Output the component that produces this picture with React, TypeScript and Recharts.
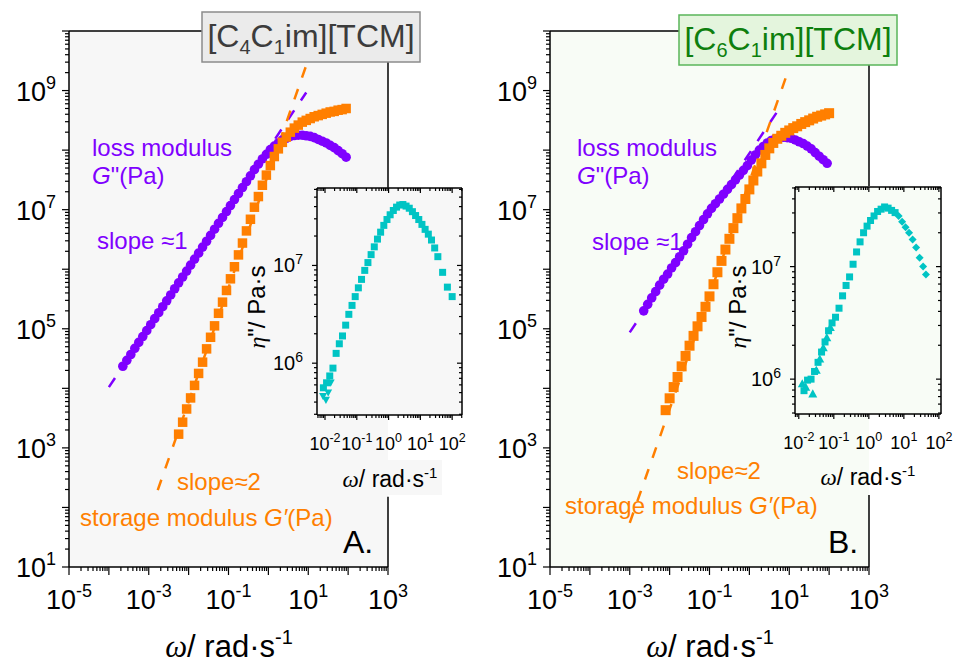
import React from 'react';
import { ScatterChart, Scatter, XAxis, YAxis, ReferenceLine } from 'recharts';

const PURPLE = '#7f00ff';
const ORANGE = '#ff7f00';
const CYAN = '#00c4c4';
const SANS = '"Liberation Sans", Arial, sans-serif';
const SERIF = '"Liberation Serif", "Times New Roman", serif';

// frequency grid (rad/s), shared by the master curves
const omegaGrid = [
  2.24e-4, 2.82e-4, 3.55e-4, 4.47e-4, 5.62e-4, 7.08e-4, 8.91e-4,
  1.12e-3, 1.41e-3, 1.78e-3, 2.24e-3, 2.82e-3, 3.55e-3, 4.47e-3, 5.62e-3, 7.08e-3, 8.91e-3,
  0.0112, 0.0141, 0.0178, 0.0224, 0.0282, 0.0355, 0.0447, 0.0562, 0.0708, 0.0891,
  0.112, 0.141, 0.178, 0.224, 0.282, 0.355, 0.447, 0.562, 0.708, 0.891,
  1.12, 1.41, 1.78, 2.24, 2.82, 3.55, 4.47, 5.62, 7.08, 8.91,
  11.2, 14.1, 17.8, 22.4, 28.2, 35.5, 44.7, 56.2, 70.8, 89.1,
];
const omegaGridB = [
  7.94e-3, 0.01, 0.0126, 0.0158, 0.02, 0.0251, 0.0316, 0.0398, 0.0501, 0.0631, 0.0794,
  0.1, 0.126, 0.158, 0.2, 0.251, 0.316, 0.398, 0.501, 0.631, 0.794,
  1, 1.26, 1.58, 2.0, 2.51, 3.16, 3.98, 5.01, 6.31, 7.94,
  10, 12.6, 15.8, 20, 25.1, 31.6, 39.8, 50.1, 63.1, 79.4, 100,
];

// [C4C1im][TCM]
const lossA = [
  2.35e4, 2.95e4, 3.7e4, 4.7e4, 5.9e4, 7.4e4, 9.3e4,
  1.17e5, 1.48e5, 1.86e5, 2.35e5, 2.95e5, 3.7e5, 4.7e5, 5.9e5, 7.4e5, 9.3e5,
  1.17e6, 1.48e6, 1.86e6, 2.35e6, 2.95e6, 3.7e6, 4.7e6, 5.9e6, 7.4e6, 9.3e6,
  1.17e7, 1.48e7, 1.86e7, 2.35e7, 2.95e7, 3.7e7, 4.7e7, 5.8e7, 7.1e7, 8.5e7,
  1.02e8, 1.17e8, 1.32e8, 1.48e8, 1.58e8, 1.7e8, 1.76e8, 1.78e8, 1.78e8, 1.74e8,
  1.7e8, 1.62e8, 1.51e8, 1.41e8, 1.32e8, 1.2e8, 1.1e8, 9.8e7, 8.7e7, 7.6e7,
];
const storageOmegaA = omegaGrid.slice(14);
const storageA = [
  1.7e3, 2.7e3, 4.5e3, 6.9e3, 1.12e4, 1.78e4, 2.75e4, 4.6e4, 7.2e4, 1.12e5,
  1.82e5, 2.8e5, 4.4e5, 6.9e5, 1.1e6, 1.74e6, 2.75e6, 4.4e6, 6.9e6, 1.1e7,
  1.66e7, 2.57e7, 3.8e7, 5.5e7, 7.8e7, 1.05e8, 1.35e8, 1.66e8, 2.0e8, 2.34e8,
  2.63e8, 2.95e8, 3.16e8, 3.39e8, 3.63e8, 3.8e8, 3.98e8, 4.17e8, 4.37e8, 4.47e8,
  4.68e8, 4.79e8, 5.0e8,
];
const lossFitOmegaA = [1e-4, 8.9];
const lossFitA = [1.05e4, 9.3e8];
const storageFitOmegaA = [1.68e-3, 9.44];
const storageFitA = [195, 2.95e9];

// [C6C1im][TCM]
const lossOmegaB = omegaGrid.slice(10);
const lossB = [
  2.0e5, 2.57e5, 3.3e5, 4.2e5, 5.4e5, 6.8e5, 8.3e5, 1.05e6, 1.29e6, 1.62e6,
  2.04e6, 2.63e6, 3.39e6, 4.27e6, 5.4e6, 6.8e6, 8.5e6, 1.05e7, 1.26e7, 1.51e7,
  1.82e7, 2.19e7, 2.63e7, 3.16e7, 3.8e7, 4.57e7, 5.5e7, 6.8e7, 8.3e7, 1.0e8,
  1.15e8, 1.32e8, 1.45e8, 1.55e8, 1.62e8, 1.64e8, 1.62e8, 1.58e8, 1.48e8, 1.38e8,
  1.29e8, 1.17e8, 1.05e8, 9.1e7, 7.9e7, 6.9e7, 6.0e7,
];
const storageB = [
  4.3e3, 6.8e3, 1.05e4, 1.55e4, 2.34e4, 3.5e4, 5.2e4, 7.6e4, 1.1e5, 1.58e5, 2.34e5,
  3.5e5, 5.6e5, 8.9e5, 1.38e6, 2.14e6, 3.24e6, 4.9e6, 7.2e6, 1.05e7, 1.51e7,
  2.19e7, 3.09e7, 4.37e7, 6.0e7, 8.3e7, 1.07e8, 1.32e8, 1.55e8, 1.74e8, 1.95e8,
  2.14e8, 2.34e8, 2.51e8, 2.75e8, 2.95e8, 3.16e8, 3.39e8, 3.63e8, 3.8e8, 3.98e8, 4.17e8,
];
const lossFitOmegaB = [1e-3, 5.2];
const lossFitB = [8.7e4, 4.6e8];
const storageFitOmegaB = [1e-3, 9.3];
const storageFitB = [55, 2.1e9];

// insets: eta'' (Pa s)
const insetOmegaA = [
  8.91e-3, 0.0112, 0.0141, 0.0178, 0.0224, 0.0282, 0.0355, 0.0447, 0.0562, 0.0708,
  0.0891, 0.112, 0.141, 0.178, 0.224, 0.282, 0.355, 0.447, 0.562, 0.708,
  0.891, 1.12, 1.41, 1.78, 2.24, 2.82, 3.55, 4.47, 5.62, 7.08,
  8.91, 11.2, 14.1, 17.8, 22.4, 28.2, 35.5, 50.1, 70.8, 100,
];
const etaA = [
  5.6e5, 6.3e5, 7.4e5, 8.9e5, 1.26e6, 1.58e6, 1.9e6, 2.45e6, 3.16e6, 3.9e6,
  4.8e6, 5.9e6, 7.2e6, 8.9e6, 1.07e7, 1.29e7, 1.55e7, 1.86e7, 2.19e7, 2.57e7,
  2.95e7, 3.3e7, 3.65e7, 3.95e7, 4.15e7, 4.2e7, 4.05e7, 3.85e7, 3.55e7, 3.24e7,
  2.95e7, 2.63e7, 2.34e7, 2.09e7, 1.82e7, 1.51e7, 1.23e7, 8.5e6, 6.0e6, 4.8e6,
];
const insetTriOmegaA = [8.7e-3, 0.0107, 0.0126, 0.0151];
const etaTriA = [4.6e5, 4.2e5, 5.0e5, 6.3e5];

const insetOmegaB = [
  0.0141, 0.0178, 0.0224, 0.0282, 0.0355, 0.0447, 0.0562, 0.0708, 0.0891, 0.112,
  0.141, 0.178, 0.224, 0.282, 0.355, 0.447, 0.562, 0.708, 0.891, 1.12,
  1.41, 1.78, 2.24, 2.82, 3.55, 4.47, 5.62,
];
const etaB = [
  7.9e5, 9.8e5, 1.0e6, 1.17e6, 1.41e6, 1.74e6, 2.14e6, 2.69e6, 3.16e6, 3.55e6,
  4.27e6, 5.5e6, 6.8e6, 8.1e6, 1.05e7, 1.35e7, 1.66e7, 2.0e7, 2.29e7, 2.57e7,
  2.82e7, 3.09e7, 3.24e7, 3.39e7, 3.31e7, 3.16e7, 3.02e7,
];
const insetDiaOmegaB = [7.08, 8.91, 11.2, 14.1, 17.8, 22.4, 28.2, 35.5, 42.7];
const etaDiaB = [2.82e7, 2.51e7, 2.24e7, 2.0e7, 1.74e7, 1.48e7, 1.2e7, 1.0e7, 8.5e6];
const insetTriOmegaB = [0.0126, 0.0158, 0.0251, 0.0316, 0.0398, 0.0501, 0.0631, 0.0794];
const etaTriB = [9.1e5, 8.5e5, 7.4e5, 1.2e6, 1.51e6, 1.9e6, 2.34e6, 2.88e6];

// tick label exponents
const mainXLabels = [-5, -3, -1, 1, 3];
const mainYLabels = [1, 3, 5, 7, 9];
const insetXLabels = [-2, -1, 0, 1, 2];
const insetYLabels = [6, 7];

const pts = (xs: number[], ys: number[]) => ys.map((y, i) => ({ x: xs[i], y }));

const logTicks = (lo: number, hi: number) => {
  const out: number[] = [];
  for (let e = Math.floor(Math.log10(lo)); e <= Math.ceil(Math.log10(hi)); e++) {
    for (let m = 1; m <= 9; m++) {
      const v = m * Math.pow(10, e);
      if (v >= lo * 0.999 && v <= hi * 1.001) out.push(v);
    }
  }
  return out;
};

type TickCfg = {
  dir: 'down' | 'left';
  major: number;
  minor: number;
  labels?: number[];
  font?: number;
  sup?: number;
  supDy?: number;
  dx?: number;
  dy?: number;
  anchor?: 'middle' | 'end';
};

const makeTick = (cfg: TickCfg) => (p: any) => {
  const v = p.payload.value;
  const e = Math.log10(v);
  const exp = Math.round(e);
  const dec = Math.abs(e - exp) < 1e-6;
  const len = dec ? cfg.major : cfg.minor;
  const x2 = cfg.dir === 'left' ? p.x - len : p.x;
  const y2 = cfg.dir === 'down' ? p.y + len : p.y;
  const show = dec && cfg.labels && cfg.labels.includes(exp);
  return (
    <g>
      <line x1={p.x} y1={p.y} x2={x2} y2={y2} stroke="#000" strokeWidth={1.2} />
      {show && (
        <text x={p.x + (cfg.dx || 0)} y={p.y + (cfg.dy || 0)} textAnchor={cfg.anchor} fontSize={cfg.font} fontFamily={SANS} fill="#000">
          10<tspan fontSize={cfg.sup} dy={-(cfg.supDy || 0)}>{String(exp)}</tspan>
        </text>
      )}
    </g>
  );
};

const circle = (c: string, r: number) => (p: any) => <circle cx={p.cx} cy={p.cy} r={r} fill={c} />;
const square = (c: string, s: number) => (p: any) => (
  <rect x={p.cx - s / 2} y={p.cy - s / 2} width={s} height={s} fill={c} />
);
const triDown = (c: string, s: number) => (p: any) => (
  <polygon points={`${p.cx - s / 2},${p.cy - s * 0.4} ${p.cx + s / 2},${p.cy - s * 0.4} ${p.cx},${p.cy + s * 0.5}`} fill={c} />
);
const triUp = (c: string, s: number) => (p: any) => (
  <polygon points={`${p.cx - s / 2},${p.cy + s * 0.4} ${p.cx + s / 2},${p.cy + s * 0.4} ${p.cx},${p.cy - s * 0.5}`} fill={c} />
);
const diamond = (c: string, s: number) => (p: any) => (
  <polygon points={`${p.cx},${p.cy - s / 2} ${p.cx + s / 2},${p.cy} ${p.cx},${p.cy + s / 2} ${p.cx - s / 2},${p.cy}`} fill={c} />
);
const none = () => <g />;

const mainXTicks = logTicks(1e-5, 1e3);
const mainYTicks = logTicks(1e1, 1e10);
const frame = { stroke: '#000', strokeWidth: 1.5 };
const dash = (c: string) => ({ stroke: c, strokeWidth: 2.5, strokeDasharray: '11 12' });

const mainXTick = makeTick({ dir: 'down', major: 8, minor: 4, labels: mainXLabels, font: 27, sup: 18, supDy: 12, dy: 42, anchor: 'middle' });
const mainYTick = makeTick({ dir: 'left', major: 7, minor: 4, labels: mainYLabels, font: 27, sup: 18, supDy: 12, dx: -13, dy: 10, anchor: 'end' });
const insetBottomTick = makeTick({ dir: 'down', major: 5, minor: 3, labels: insetXLabels, font: 18, sup: 12.5, supDy: 8, dy: 35, anchor: 'middle' });
const insetTopTick = makeTick({ dir: 'down', major: 5, minor: 3 });
const insetLeftTick = makeTick({ dir: 'left', major: 5, minor: 3, labels: insetYLabels, font: 20, sup: 14, supDy: 8, dx: -14, dy: 7, anchor: 'end' });
const insetRightTick = makeTick({ dir: 'left', major: 5, minor: 3 });

function MainPanel(props: any) {
  const { left, width, plotLeft, plotRight, bg, loss, storage, lossFit, storageFit, sq, gapTop, gapBottom } = props;
  return (
    <>
      <div style={{ position: 'absolute', left: left + plotLeft, top: 31, width: plotRight - plotLeft, height: 536, background: bg }} />
      <div style={{ position: 'absolute', left, top: 0, width, height: 665 }}>
        <ScatterChart width={width} height={665} margin={{ top: 31, right: width - plotRight, bottom: 38, left: plotLeft - 60 }}>
          <XAxis dataKey="x" type="number" scale="log" domain={[1e-5, 1e3]} allowDataOverflow ticks={mainXTicks} interval={0}
            height={60} tickSize={0} tickMargin={0} tickLine={false} axisLine={frame} tick={mainXTick} />
          <YAxis dataKey="y" type="number" scale="log" domain={[1e1, 1e10]} allowDataOverflow ticks={mainYTicks} interval={0}
            width={60} tickSize={0} tickMargin={0} tickLine={false} axisLine={frame} tick={mainYTick} />
          <ReferenceLine y={1e10} stroke="#000" strokeWidth={1.5} ifOverflow="visible" />
          <ReferenceLine segment={[{ x: 1e3, y: 1e10 }, { x: 1e3, y: gapTop }]} stroke="#000" strokeWidth={1.5} ifOverflow="visible" />
          <ReferenceLine segment={[{ x: 1e3, y: gapBottom }, { x: 1e3, y: 1e1 }]} stroke="#000" strokeWidth={1.5} ifOverflow="visible" />
          <Scatter data={lossFit} line={dash(PURPLE)} shape={none} isAnimationActive={false} />
          <Scatter data={storageFit} line={dash(ORANGE)} shape={none} isAnimationActive={false} />
          <Scatter data={loss} shape={circle(PURPLE, 4.8)} isAnimationActive={false} />
          <Scatter data={storage} shape={square(ORANGE, sq)} isAnimationActive={false} />
        </ScatterChart>
      </div>
    </>
  );
}

function Inset(props: any) {
  const { left, top, width, height, plot, xDomain, yDomain, bg, series } = props;
  const xt = logTicks(xDomain[0], xDomain[1]);
  const yt = logTicks(yDomain[0], yDomain[1]);
  const common = { type: 'number' as const, scale: 'log' as const, allowDataOverflow: true, interval: 0 as const, tickSize: 0, tickMargin: 0, tickLine: false, axisLine: frame };
  // axis sizes: bottom 40, top 8, left 60, right 5
  const margin = {
    top: plot.top - top - 8,
    left: plot.left - left - 60,
    right: left + width - plot.right - 5,
    bottom: top + height - plot.bottom - 40,
  };
  return (
    <>
      <div style={{ position: 'absolute', left: plot.left, top: plot.top, width: plot.right - plot.left, height: plot.bottom - plot.top, background: bg }} />
      <div style={{ position: 'absolute', left, top, width, height }}>
        <ScatterChart width={width} height={height} margin={margin}>
          <XAxis xAxisId="b" dataKey="x" {...common} domain={xDomain} ticks={xt} height={40} tick={insetBottomTick} />
          <XAxis xAxisId="t" dataKey="x" orientation="top" {...common} domain={xDomain} ticks={xt} height={8} tick={insetTopTick} />
          <YAxis yAxisId="l" dataKey="y" {...common} domain={yDomain} ticks={yt} width={60} tick={insetLeftTick} />
          <YAxis yAxisId="r" dataKey="y" orientation="right" {...common} domain={yDomain} ticks={yt} width={5} tick={insetRightTick} />
          {series.map((s: any, i: number) => (
            <Scatter key={i} xAxisId="b" yAxisId="l" data={s.data} shape={s.shape} isAnimationActive={false} />
          ))}
        </ScatterChart>
      </div>
    </>
  );
}

export default function App() {
  return (
    <div style={{ position: 'absolute', left: 0, top: 0, width: 956, height: 665, background: '#fff', fontFamily: SANS }}>
      <MainPanel left={0} width={480} plotLeft={69} plotRight={388} bg="#f7f7f7" sq={9.5}
        loss={pts(omegaGrid, lossA)} storage={pts(storageOmegaA, storageA)}
        lossFit={pts(lossFitOmegaA, lossFitA)} storageFit={pts(storageFitOmegaA, storageFitA)}
        gapTop={2.34e7} gapBottom={151} />
      <MainPanel left={480} width={476} plotLeft={70} plotRight={389} bg="#f8fcf6" sq={10}
        loss={pts(lossOmegaB, lossB)} storage={pts(omegaGridB, storageB)}
        lossFit={pts(lossFitOmegaB, lossFitB)} storageFit={pts(storageFitOmegaB, storageFitB)}
        gapTop={2.5e7} gapBottom={162} />
      <Inset left={240} top={170} width={230} height={300} plot={{ left: 317, right: 462, top: 188, bottom: 415 }}
        xDomain={[5.6e-3, 204]} yDomain={[2.95e5, 6.2e7]} bg="#f7f7f7"
        series={[
          { data: pts(insetTriOmegaA, etaTriA), shape: triDown(CYAN, 8) },
          { data: pts(insetOmegaA, etaA), shape: square(CYAN, 7) },
        ]} />
      <Inset left={720} top={170} width={236} height={300} plot={{ left: 795, right: 941, top: 187, bottom: 414 }}
        xDomain={[7.8e-3, 115]} yDomain={[4.9e5, 5.1e7]} bg="#f8fcf6"
        series={[
          { data: pts(insetTriOmegaB, etaTriB), shape: triUp(CYAN, 9) },
          { data: pts(insetOmegaB, etaB), shape: square(CYAN, 7) },
          { data: pts(insetDiaOmegaB, etaDiaB), shape: diamond(CYAN, 8) },
        ]} />
      <svg width={956} height={665} style={{ position: 'absolute', left: 0, top: 0, pointerEvents: 'none' }} fontFamily={SANS}>
        {/* panel A */}
        <rect x={202} y={12} width={218} height={50} fill="#ebebeb" stroke="#8c8c8c" strokeWidth={1.5} />
        <text x={311} y={47} textAnchor="middle" fontSize={32} fill="#3c3c3c">
          [C<tspan fontSize={20} dy={7}>4</tspan><tspan dy={-7}>C</tspan><tspan fontSize={20} dy={7}>1</tspan><tspan dy={-7}>im][TCM]</tspan>
        </text>
        <text x={92} y={156} fontSize={24} fill={PURPLE}>loss modulus</text>
        <text x={92} y={184} fontSize={24} fill={PURPLE}><tspan fontStyle="italic">G</tspan>{'"(Pa)'}</text>
        <text x={97} y={249} fontSize={24} fill={PURPLE}>slope ≈1</text>
        <text x={177} y={490} fontSize={24} fill={ORANGE}>slope≈2</text>
        <text x={80} y={526} fontSize={24} fill={ORANGE}>{'storage modulus '}<tspan fontStyle="italic">G′</tspan>(Pa)</text>
        <text x={343} y={553} fontSize={32} fill="#000">A.</text>
        <text x={229} y={657} textAnchor="middle" fontSize={31} fill="#000">
          <tspan fontFamily={SERIF} fontStyle="italic">ω</tspan>{'/ rad·s'}<tspan fontSize={20} dy={-13}>-1</tspan>
        </text>
        <rect x={340} y={460} width={102} height={35} fill="#f7f7f7" />
        <text x={390} y={487} textAnchor="middle" fontSize={23} fill="#000">
          <tspan fontFamily={SERIF} fontStyle="italic">ω</tspan>{'/ rad·s'}<tspan fontSize={15} dy={-9}>-1</tspan>
        </text>
        <text x={265} y={307} transform="rotate(-90 265 307)" textAnchor="middle" fontSize={24} fill="#000">
          <tspan fontFamily={SERIF} fontStyle="italic">η</tspan>{'"/ Pa·s'}
        </text>
        {/* panel B */}
        <rect x={679} y={15} width={218} height={50} fill="#e4f5dd" stroke="#5ab55a" strokeWidth={1.5} />
        <text x={788} y={50} textAnchor="middle" fontSize={32} fill="#0e7f0e">
          [C<tspan fontSize={20} dy={7}>6</tspan><tspan dy={-7}>C</tspan><tspan fontSize={20} dy={7}>1</tspan><tspan dy={-7}>im][TCM]</tspan>
        </text>
        <text x={577} y={156} fontSize={24} fill={PURPLE}>loss modulus</text>
        <text x={577} y={184} fontSize={24} fill={PURPLE}><tspan fontStyle="italic">G</tspan>{'"(Pa)'}</text>
        <text x={592} y={250} fontSize={24} fill={PURPLE}>slope ≈1</text>
        <text x={677} y={479} fontSize={24} fill={ORANGE}>slope≈2</text>
        <text x={565} y={514} fontSize={24} fill={ORANGE}>{'storage modulus '}<tspan fontStyle="italic">G′</tspan>(Pa)</text>
        <text x={828} y={553} fontSize={32} fill="#000">B.</text>
        <text x={710} y={657} textAnchor="middle" fontSize={31} fill="#000">
          <tspan fontFamily={SERIF} fontStyle="italic">ω</tspan>{'/ rad·s'}<tspan fontSize={20} dy={-13}>-1</tspan>
        </text>
        <text x={868} y={485} textAnchor="middle" fontSize={23} fill="#000">
          <tspan fontFamily={SERIF} fontStyle="italic">ω</tspan>{'/ rad·s'}<tspan fontSize={15} dy={-9}>-1</tspan>
        </text>
        <text x={746} y={307} transform="rotate(-90 746 307)" textAnchor="middle" fontSize={24} fill="#000">
          <tspan fontFamily={SERIF} fontStyle="italic">η</tspan>{'"/ Pa·s'}
        </text>
      </svg>
    </div>
  );
}
